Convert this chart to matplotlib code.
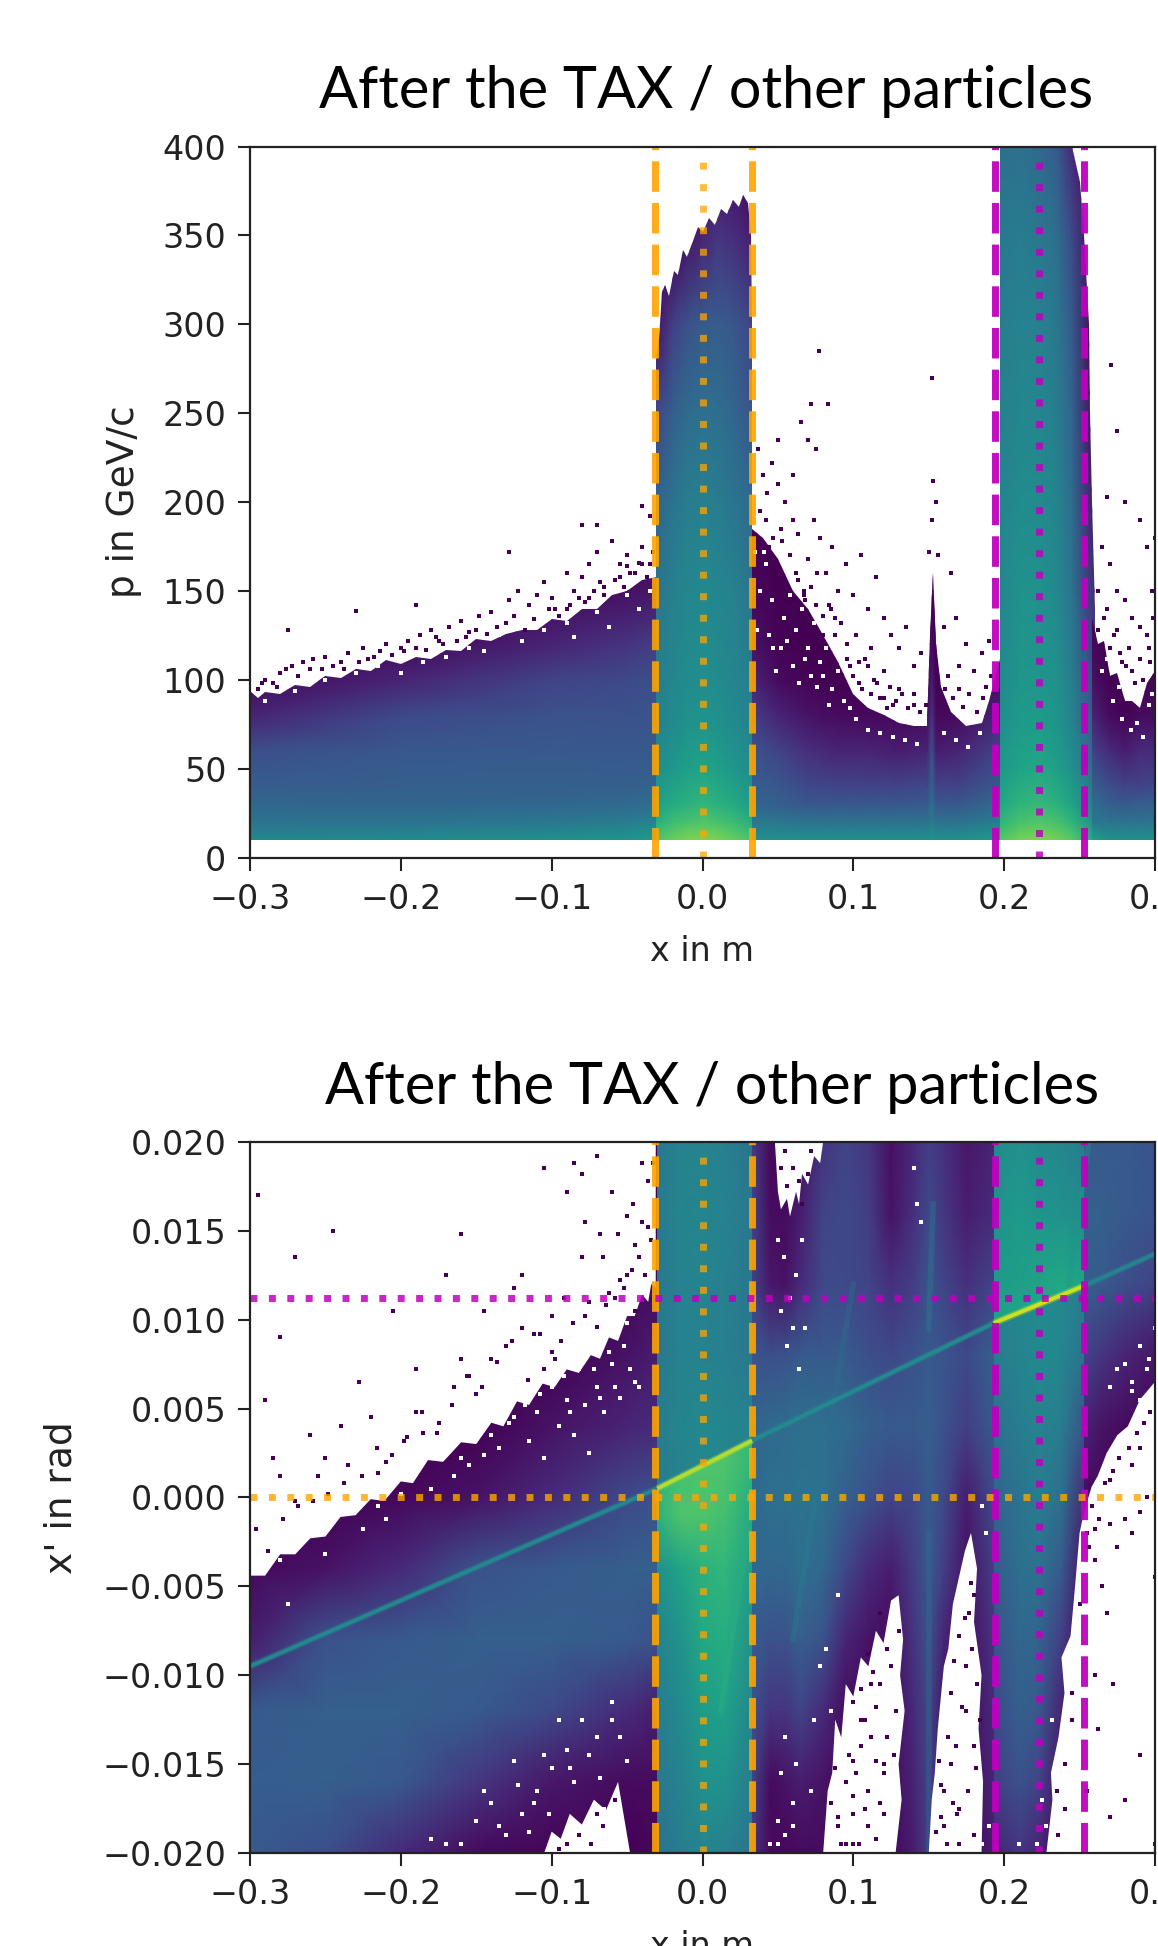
import numpy as np
import matplotlib
matplotlib.use("Agg")
import matplotlib.pyplot as plt
from matplotlib.patches import Polygon

title_text = "After the TAX / other particles"
x_ticks = [-0.3, -0.2, -0.1, 0.0, 0.1, 0.2, 0.3]
p_ticks = [0, 50, 100, 150, 200, 250, 300, 350, 400]
xp_ticks = [-0.020, -0.015, -0.010, -0.005, 0.000, 0.005, 0.010, 0.015, 0.020]

orange_x = [-0.0313, 0.0329]
orange_centre = 0.0
magenta_x = [0.194, 0.2527]
magenta_centre = 0.223
orange_y = 0.0
magenta_y = 0.0112

# ---- top panel: colour level (0-1 along viridis)
p_low = [10, 15, 20, 30, 40, 60, 80, 100, 120, 150, 190]
p_full = [10, 15, 20, 30, 50, 75, 100, 150, 200, 250, 300, 350, 400]

left_x = [-0.3, -0.2, -0.1, -0.05, -0.03]
left_vals = [[.47, .48, .50, .52, .55],
             [.42, .43, .45, .47, .50],
             [.38, .38, .40, .42, .45],
             [.33, .32, .33, .34, .36],
             [.29, .30, .30, .30, .32],
             [.24, .27, .28, .27, .28],
             [.10, .22, .25, .25, .26],
             [.02, .10, .20, .22, .24],
             [.00, .02, .10, .15, .18],
             [.00, .00, .02, .04, .06],
             [.00, .00, .00, .00, .00]]
left_env_x = [-.3, -.295, -.29, -.28, -.27, -.26, -.25, -.24, -.23, -.22, -.21, -.2, -.19, -.18, -.17, -.16, -.15, -.14, -.13, -.12, -.11, -.1, -.09, -.08, -.07, -.06, -.05, -.04, -.03]
left_env_p = [94, 90, 93, 92, 97, 96, 102, 101, 106, 105, 111, 109, 113, 112, 117, 116, 123, 122, 126, 128, 128, 134, 133, 140, 140, 148, 150, 156, 158]

mid_x = [.033, .05, .07, .09, .11, .13, .149, .152, .155, .17, .197]
mid_vals = [[.50, .50, .50, .50, .50, .50, .50, .52, .50, .50, .55],
            [.45, .45, .44, .44, .44, .44, .44, .47, .44, .44, .49],
            [.40, .40, .38, .38, .38, .38, .38, .42, .38, .38, .42],
            [.33, .30, .27, .27, .27, .27, .28, .36, .27, .27, .34],
            [.30, .27, .22, .20, .20, .20, .22, .32, .20, .20, .28],
            [.25, .20, .13, .10, .10, .08, .10, .25, .08, .10, .20],
            [.18, .10, .05, .03, .02, .02, .03, .15, .02, .03, .10],
            [.10, .03, .01, .00, .00, .00, .00, .08, .00, .00, .03],
            [.05, .01, .00, .00, .00, .00, .00, .03, .00, .00, .02],
            [.02, .00, .00, .00, .00, .00, .00, .01, .00, .00, .00],
            [.00, .00, .00, .00, .00, .00, .00, .00, .00, .00, .00]]
mid_env_x = [.033, .04, .05, .06, .07, .08, .09, .1, .11, .12, .13, .14, .149, .151, .153, .155, .158, .165, .175, .185, .19, .197]
mid_env_p = [185, 180, 168, 150, 140, 125, 110, 92, 84, 80, 76, 74, 74, 125, 160, 120, 96, 82, 74, 76, 88, 112]

slit1_x = [-0.031, -0.02, -0.01, 0, 0.01, 0.02, 0.033]
slit1_vals = [[.72, .77, .80, .81, .80, .77, .71],
              [.68, .73, .76, .77, .76, .73, .67],
              [.63, .69, .71, .73, .71, .69, .62],
              [.56, .61, .64, .66, .64, .61, .55],
              [.49, .53, .56, .58, .56, .53, .48],
              [.44, .48, .50, .52, .50, .48, .44],
              [.42, .46, .48, .49, .48, .46, .42],
              [.38, .43, .46, .47, .46, .44, .39],
              [.32, .38, .42, .43, .42, .39, .34],
              [.20, .30, .35, .37, .36, .33, .26],
              [.05, .18, .25, .28, .29, .27, .20],
              [.00, .00, .05, .10, .15, .13, .08],
              [.00, .00, .00, .00, .02, .02, .00]]
slit1_env_x = [-.031, -.029, -.027, -.025, -.022, -.019, -.016, -.013, -.01, -.006, -.003, 0, .004, .008, .012, .016, .02, .024, .027, .03, .032, .033]
slit1_env_p = [280, 292, 318, 322, 316, 330, 328, 342, 338, 347, 355, 352, 360, 356, 365, 362, 370, 366, 373, 368, 350, 300]

slit2_x = [.197, .21, .223, .235, .245, .26]
slit2_vals = [[.73, .79, .81, .79, .74, .60],
              [.69, .75, .77, .75, .70, .54],
              [.65, .71, .73, .71, .65, .49],
              [.59, .65, .67, .64, .58, .42],
              [.53, .58, .60, .56, .50, .34],
              [.49, .54, .55, .52, .45, .28],
              [.47, .52, .52, .50, .42, .22],
              [.46, .50, .50, .47, .38, .12],
              [.45, .48, .48, .45, .35, .06],
              [.43, .46, .46, .42, .32, .02],
              [.42, .44, .44, .40, .28, .00],
              [.40, .42, .40, .36, .22, .00],
              [.36, .37, .34, .28, .12, .00]]
slit2_env_x = [.197, .197, .245, .25, .253, .256, .257, .258, .26, .26]
slit2_env_p = [10, 400, 400, 380, 350, 300, 250, 200, 140, 10]

right_x = [.258, .27, .28, .29, .3]
right_p = [10, 20, 30, 40, 60, 80, 100, 120, 150]
right_vals = [[.58, .50, .50, .50, .50],
              [.40, .38, .38, .38, .38],
              [.36, .30, .28, .30, .30],
              [.30, .24, .20, .20, .22],
              [.20, .12, .08, .12, .12],
              [.10, .03, .01, .03, .03],
              [.05, .00, .00, .00, .02],
              [.02, .00, .00, .00, .00],
              [.00, .00, .00, .00, .00]]
right_env_x = [.258, .262, .266, .27, .275, .28, .285, .29, .295, .3]
right_env_p = [135, 120, 122, 102, 104, 88, 88, 84, 98, 105]

# single occupied bins above the solid part
top_speck_x = [-.295, -.29, -.285, -.28, -.272, -.265, -.258, -.25, -.24, -.235, -.225, -.218, -.21, -.2, -.195, -.187, -.18, -.175, -.168, -.16, -.155, -.148, -.14, -.13, -.128, -.122, -.115, -.11, -.105, -.098, -.09, -.085, -.08, -.075, -.07, -.068, -.06, -.055, -.05, -.045, -.04, -.035, -.275, -.23, -.19, -.128, -.08, -.07, -.04, -.035,
               -.292, -.282, -.276, -.268, -.26, -.252, -.245, -.238, -.228, -.222, -.214, -.206, -.198, -.19, -.183, -.177, -.172, -.163, -.157, -.15, -.143, -.136, -.125, -.118, -.112, -.102, -.095, -.088, -.082, -.078, -.072, -.065, -.058, -.052, -.048, -.042, -.037, -.033, -.1, -.09, -.075, -.065, -.055, -.05, -.04,
               .037, .04, .043, .046, .05, .05, .055, .06, .065, .072, .077, .083, .075, .07, .06, .042, .047, .053, .058, .063, .07, .074, .078, .082, .086, .09, .095, .1, .105, .11, .115, .12, .125, .13, .135, .14, .145, .08, .088, .096, .104, .112, .12, .13, .14, .05, .067, .075, .085, .038, .044, .052, .062, .068,
               .063, .067, .072, .076, .08, .084, .088, .092, .096, .1, .104, .108, .112, .116, .12, .124, .128, .132, .136, .14, .144, .148, .098, .102, .106, .11, .114, .118, .122, .126,
               .152, .153, .155, .152, .15, .156, .165, .168, .16, .175, .18, .185, .19, .17, .161, .163, .166, .17, .173, .177, .182, .186, .188, .191,
               .271, .268, .275, .29, .295, .3, .28, .265, .27, .275, .28, .285, .29, .295, .298, .262, .268, .275, .283, .29, .296, .278, .285,
               .262, .266, .27, .273, .277, .281, .287, .292, .297, .299]
top_speck_p = [95, 100, 98, 104, 108, 110, 112, 113, 110, 115, 118, 113, 120, 118, 122, 125, 128, 122, 130, 133, 127, 136, 138, 132, 145, 150, 142, 148, 155, 140, 160, 150, 158, 165, 172, 155, 178, 165, 170, 160, 175, 165, 128, 139, 142, 172, 187, 187, 198, 192,
               98, 96, 106, 102, 106, 106, 108, 106, 110, 112, 116, 114, 116, 118, 117, 124, 120, 122, 124, 128, 126, 130, 136, 128, 134, 140, 136, 142, 146, 144, 150, 148, 156, 152, 160, 166, 158, 172, 146, 140, 146, 152, 158, 164, 165,
               230, 215, 205, 222, 235, 210, 200, 215, 245, 255, 285, 255, 230, 235, 190, 190, 180, 178, 170, 182, 168, 190, 180, 160, 175, 150, 165, 148, 170, 140, 158, 135, 125, 118, 130, 108, 115, 125, 135, 120, 110, 118, 105, 95, 92, 160, 150, 142, 140, 195, 175, 185, 160, 145,
               156, 148, 152, 160, 136, 142, 125, 132, 112, 102, 98, 112, 92, 98, 90, 96, 88, 92, 84, 86, 82, 86, 108, 125, 95, 108, 100, 90, 84, 86,
               270, 212, 200, 190, 172, 170, 160, 135, 130, 120, 105, 115, 122, 108, 95, 102, 90, 95, 85, 92, 82, 90, 96, 102,
               277, 203, 240, 190, 175, 180, 200, 175, 165, 150, 145, 135, 130, 125, 150, 150, 140, 128, 118, 112, 118, 110, 105,
               128, 135, 118, 125, 115, 108, 98, 100, 110, 135]
# white gaps in the purple edge of the top panel
top_gap_x = [-.29, -.27, -.25, -.23, -.215, -.2, -.185, -.17, -.155, -.145, -.135, -.12, -.105, -.09, -.085, -.07, -.062, -.05, -.042, -.035,
             .038, .042, .046, .05, .054, .058, .062, .066, .07, .074, .078, .082, .086, .09, .094, .098, .044, .052, .06, .068, .076, .084, .102, .11, .118, .126, .134, .142, .16, .168, .176, .184, .036, .041, .047, .056, .064, .072, .08, .035, .049,
             .265, .272, .278, .284, .292, .296, .268, .276, .288, .298]
top_gap_p = [88, 94, 100, 104, 108, 104, 110, 113, 118, 116, 125, 122, 128, 132, 124, 138, 130, 148, 140, 150,
             150, 165, 145, 160, 135, 148, 128, 140, 118, 132, 110, 118, 95, 105, 88, 84, 125, 118, 108, 112, 96, 86, 78, 72, 70, 68, 66, 64, 70, 66, 62, 70, 128, 172, 118, 122, 98, 102, 102, 172, 105,
             105, 88, 78, 72, 68, 86, 112, 96, 76, 92]

# ---- bottom panel
y_nodes = [-.02, -.016, -.012, -.008, -.004, 0, .004, .008, .012, .016, .02]

b_left_x = [-.3, -.25, -.2, -.15, -.1, -.05, -.03]
b_left_vals = [[.28, .24, .12, .03, .01, .00, .02],
               [.29, .30, .27, .16, .06, .03, .03],
               [.28, .30, .30, .28, .22, .12, .08],
               [.08, .25, .28, .30, .30, .28, .25],
               [.02, .05, .12, .25, .28, .30, .30],
               [.00, .00, .02, .05, .12, .22, .25],
               [.00, .00, .00, .00, .05, .10, .12],
               [.00, .00, .00, .00, .00, .05, .08],
               [.00, .00, .00, .00, .00, .02, .03],
               [.00, .00, .00, .00, .00, .00, .00],
               [.00, .00, .00, .00, .00, .00, .00]]

b_slit1_x = [-.03, -.015, 0, .015, .033]
# slit 1 is split along the ridge: bright below it, flat above it
b_slit1_low_y = [-.02, -.016, -.012, -.008, -.004, -.001, .002, .0035]
b_slit1_low_vals = [[.38, .42, .45, .43, .38],
                    [.40, .44, .50, .51, .42],
                    [.42, .47, .55, .57, .45],
                    [.45, .50, .60, .62, .50],
                    [.50, .58, .64, .66, .56],
                    [.64, .72, .72, .70, .60],
                    [.66, .70, .72, .72, .66],
                    [.66, .70, .72, .72, .66]]
b_slit1_up_y = [.0005, .004, .008, .012, .016, .02]
b_slit1_up_vals = [[.42, .44, .46, .45, .42],
                   [.42, .45, .47, .46, .44],
                   [.40, .44, .44, .43, .40],
                   [.40, .44, .45, .43, .40],
                   [.41, .45, .46, .44, .40],
                   [.40, .44, .45, .43, .38]]

b_mid_x = [.033, .045, .055, .065, .08, .095, .11, .125, .14, .15, .16, .175, .193]
b_mid_vals = [[.15, .02, .02, .03, .03, .02, .02, .02, .08, .18, .02, .02, .08],
              [.20, .03, .05, .08, .05, .02, .02, .03, .10, .20, .03, .03, .10],
              [.25, .15, .15, .20, .12, .03, .03, .03, .12, .22, .05, .03, .12],
              [.28, .25, .25, .30, .25, .10, .05, .03, .15, .25, .10, .03, .15],
              [.33, .33, .33, .36, .33, .22, .12, .08, .18, .28, .18, .05, .18],
              [.34, .36, .36, .38, .37, .30, .25, .20, .22, .28, .22, .08, .22],
              [.32, .34, .35, .36, .36, .34, .30, .28, .28, .30, .25, .18, .28],
              [.26, .24, .25, .28, .28, .28, .24, .22, .25, .28, .26, .22, .30],
              [.20, .06, .05, .12, .22, .22, .20, .14, .18, .26, .20, .14, .20],
              [.20, .03, .03, .08, .20, .22, .18, .05, .14, .22, .16, .08, .12],
              [.18, .02, .02, .05, .15, .20, .16, .04, .12, .18, .14, .06, .10]]

# slit 2 is split along the ridge as well
b_slit2_x = [.193, .21, .223, .238, .253]
b_slit2_low_y = [-.02, -.016, -.012, -.008, -.004, 0, .004, .008, .012]
b_slit2_low_vals = [[.10, .15, .10, .03, .00],
                    [.18, .25, .20, .05, .00],
                    [.22, .30, .28, .10, .02],
                    [.25, .33, .32, .18, .03],
                    [.28, .36, .38, .28, .05],
                    [.32, .38, .42, .36, .12],
                    [.36, .42, .45, .42, .25],
                    [.42, .45, .47, .46, .38],
                    [.44, .46, .48, .47, .42]]
b_slit2_up_y = [.0095, .012, .016, .02]
b_slit2_up_vals = [[.58, .60, .60, .60, .58],
                   [.54, .56, .58, .60, .58],
                   [.50, .54, .52, .50, .48],
                   [.48, .50, .48, .46, .42]]

b_right_x = [.253, .265, .28, .3]
b_right_vals = [[.00, .00, .00, .00],
                [.00, .00, .00, .00],
                [.00, .00, .00, .00],
                [.00, .00, .00, .00],
                [.00, .00, .00, .00],
                [.03, .02, .00, .00],
                [.10, .05, .03, .02],
                [.20, .15, .10, .06],
                [.30, .28, .24, .20],
                [.30, .30, .28, .26],
                [.28, .28, .28, .26]]

# the sharp ridge: x, x', colour level
ridge_x = [-.3, -.03, .033, .193, .253, .3]
ridge_y = [-.0095, .0005, .0032, .0098, .0119, .0137]
ridge_level = [.46, .88, .47, .92, .44]

# fainter streaks
streak_x0 = [.15, .085, .012, .243, .06, .15]
streak_y0 = [.0095, .0045, -.012, .012, -.008, -.02]
streak_x1 = [.153, .1, .032, .256, .075, .15]
streak_y1 = [.0165, .012, -.001, .02, .0, -.002]
streak_level = [.42, .36, .64, .52, .42, .34]

# empty areas of the bottom panel
hole_ul_x = [-.3, -.031, -.031, -.034, -.036, -.04, -.045, -.05, -.056, -.062, -.068, -.074, -.082, -.09, -.098, -.106, -.115, -.123, -.132, -.14, -.15, -.16, -.172, -.182, -.192, -.2, -.211, -.22, -.23, -.24, -.25, -.26, -.27, -.28, -.29, -.3]
hole_ul_y = [.02, .02, .0118, .012, .011, .0114, .0102, .0102, .0088, .009, .0078, .008, .007, .0072, .0062, .0064, .0052, .0054, .004, .0042, .003, .0031, .002, .0021, .0008, .0009, -.0002, -.0001, -.001, -.0011, -.0022, -.0023, -.0032, -.0032, -.0044, -.0044]
hole_top_x = [.048, .05, .052, .056, .058, .062, .064, .066, .07, .074, .078, .08]
hole_top_y = [.02, .0172, .0162, .0168, .0158, .0172, .0165, .0182, .0176, .0192, .0188, .02]
hole_low_x = [-.105, -.1, -.094, -.088, -.08, -.072, -.064, -.056, -.052, -.048]
hole_low_y = [-.02, -.0188, -.0192, -.0178, -.0184, -.017, -.0176, -.016, -.018, -.02]
hole_a_x = [.08, .083, .086, .088, .092, .095, .1, .105, .11, .115, .12, .125, .13, .133, .131, .134, .13, .132, .128]
hole_a_y = [-.02, -.0165, -.0155, -.0125, -.0135, -.0105, -.0112, -.009, -.0095, -.0075, -.0082, -.0058, -.0055, -.008, -.01, -.012, -.015, -.017, -.02]
hole_b_x = [.15, .152, .154, .156, .16, .163, .166, .17, .174, .178, .182, .18, .185, .183, .186, .185]
hole_b_y = [-.02, -.017, -.0155, -.013, -.0095, -.0085, -.006, -.0045, -.003, -.002, -.004, -.007, -.01, -.013, -.016, -.02]
hole_r_x = [.228, .232, .231, .236, .24, .238, .244, .247, .25, .253, .258, .262, .268, .275, .282, .29, .3, .3]
hole_r_y = [-.02, -.017, -.0155, -.0135, -.011, -.009, -.0078, -.005, -.002, -.0008, .0006, .0012, .0025, .0035, .004, .0055, .0065, -.02]

# purple bins lying in the empty areas
low_speck_x = [-.295, -.29, -.285, -.28, -.27, -.26, -.255, -.245, -.24, -.235, -.228, -.22, -.215, -.21, -.205, -.198, -.19, -.185, -.175, -.17, -.165, -.16, -.15, -.145, -.14, -.13, -.125, -.12, -.112, -.105, -.1, -.092, -.085, -.08, -.075, -.068, -.062, -.055, -.05, -.045, -.04, -.036, -.033, -.28, -.27, -.25, -.19, -.16, -.155, -.12, -.105, -.098, -.08, -.06, -.05, -.045,
               -.296, -.288, -.278, -.268, -.258, -.248, -.238, -.226, -.216, -.206, -.196, -.186, -.176, -.166, -.156, -.146, -.136, -.126, -.116, -.108, -.1, -.094, -.086, -.078, -.07, -.064, -.058, -.052, -.047, -.042, -.038, -.034, -.09, -.078, -.066, -.056, -.046, -.04, -.036, -.07,
               .052, .056, .06, .064, .072, .07, .055, .066,
               -.09, -.082, -.074, -.066, -.058, -.07, -.095,
               .09, .095, .1, .105, .11, .115, .12, .125, .128, .1, .105, .11, .115, .12, .1, .105, .112, .118, .1, .108, .115, .122, .095, .104, .112, .12, .09, .1, .11, .118,
               .085, .088, .092, .097, .102, .108, .113, .118, .122, .127, .13,
               .16, .165, .17, .175, .18, .165, .17, .175, .18, .16, .168, .176, .18, .162, .17, .178, .158, .166, .174, .182,
               .155, .158, .163, .167, .172, .177, .181, .184, .157, .169, .179,
               .236, .24, .245, .25, .245, .24, .235, .255, .26, .265, .27, .275, .28, .26, .268, .285, .29, .295, .262, .272, .28, .27, .29, .3, .255, .27, .285, .29, .3,
               .258, .263, .267, .272, .276, .283, .288, .293, .297, .256, .26]
low_speck_y = [.017, .0055, .0022, .009, .0135, .0035, .0012, .015, .004, .0018, .0065, .0045, .0014, .002, .0105, .0032, .0072, .0036, .0042, .0125, .0062, .0078, .0058, .0105, .0078, .0085, .0118, .0095, .0092, .0185, .0102, .0112, .0188, .0182, .011, .0148, .0115, .0122, .0158, .0142, .0155, .0178, .0188, .0012, -.0002, .0022, .0048, .0148, .0068, .0125, .0072, .0078, .0135, .0172, .0125, .0105,
               -.0018, -.003, -.0012, -.0005, -.0002, .0002, .0008, .0012, .0028, .0024, .0034, .0048, .0036, .0052, .0068, .0062, .0076, .0088, .0066, .0092, .0082, .0088, .0098, .0102, .0096, .0108, .0112, .0118, .0128, .0135, .0125, .0145, .0172, .0155, .0135, .0148, .0165, .0188, .0152, .0192,
               .0185, .0175, .0185, .0178, .0195, .0182, .0195, .0165,
               -.0195, -.019, -.0195, -.0185, -.017, -.0178, -.0198,
               -.018, -.016, -.0178, -.014, -.0165, -.0118, -.015, -.0095, -.012, -.0195, -.0125, -.0185, -.0148, -.0178, -.0148, -.0108, -.0135, -.0105, -.0168, -.0175, -.0192, -.0135, -.0195, -.0195, -.0105, -.0155, -.0185, -.0115, -.0088, -.0065,
               -.0172, -.0152, -.0195, -.0145, -.0155, -.0125, -.0098, -.0172, -.0085, -.0145, -.0075,
               -.0185, -.015, -.0175, -.012, -.019, -.011, -.0078, -.0095, -.0055, -.0165, -.014, -.0165, -.014, -.0195, -.0195, -.0048, -.018, -.0172, -.0068, -.0105,
               -.0188, -.0162, -.0135, -.0092, -.0118, -.0065, -.0152, -.0125, -.0148, -.0178, -.0085,
               -.019, -.015, -.011, -.006, -.0125, -.0175, -.0165, -.002, -.0035, -.005, -.0015, -.0028, -.0012, -.01, -.0065, -.002, -.0008, .0, -.013, -.0105, -.017, -.018, -.0145, -.0195, -.0165, .001, .0018, .0028, -.0045,
               -.0005, -.0012, .0008, .0015, .0022, .0028, .0036, .0042, .0048, -.0028, -.0018]
# white gaps inside the purple areas
gap_x = [-.28, -.275, -.26, -.25, -.225, -.215, -.19, -.18, -.17, -.16, -.15, -.14, -.13, -.12, -.11, -.1, -.09, -.08, -.07, -.06, -.05, -.045, -.125, -.115, -.105, -.095, -.085, -.075, -.065, -.055,
         -.135, -.128, -.118, -.108, -.1, -.092, -.082, -.072, -.062, -.052, -.048, -.088, -.078, -.068, -.058, -.042, -.155, -.145, -.165, -.175, -.2, -.21,
         -.16, -.15, -.14, -.13, -.12, -.11, -.1, -.09, -.08, -.07, -.06, -.05, -.145, -.125, -.115, -.095, -.085, -.065,
         -.135, -.122, -.105, -.088, -.075, -.06, -.055, -.112, -.102, -.068, -.17, -.18,
         .05, .054, .058, .062, .066, .052, .06, .068, .056, .064, .05, .06, .072, .052, .06, .045, .05, .055, .062, .055,
         .14, .142, .145, .185, .188, .178, .09, .082, .078, .074, .085,
         .19, .185, .21, .222, .225, .235, .232, .24, .228, .245,
         .28, .285, .29, .295, .3, .29, .285, .296, .275, .27]
gap_y = [-.0035, -.006, -.001, -.0032, -.0018, -.0005, .0015, .0005, .0032, .0022, .0048, .0035, .0058, .0068, .0048, .0078, .0055, .0088, .0062, .0075, .0098, .0065, .0045, .0032, .0022, .004, .0035, .0025, .0048, .0056,
         .0028, .0042, .0052, .0058, .0062, .0068, .0072, .0072, .0082, .0085, .0072, .0048, .0052, .0056, .0062, .0062, .0018, .0024, .0012, .0022, .0002, -.0012,
         -.0195, -.0182, -.0172, -.019, -.0178, -.0165, -.0152, -.0142, -.0125, -.0135, -.0115, -.0148, -.0165, -.0148, -.0188, -.0125, -.016, -.0175,
         -.0185, -.0162, -.0145, -.0152, -.0145, -.0125, -.0135, -.0172, -.0178, -.0158, -.0195, -.0192,
         .0145, .0135, .0112, .0125, .0145, .0105, .0095, .0095, .0085, .0072, -.0195, -.0172, -.0165, -.0155, -.0185, -.0195, -.0182, -.019, -.015, -.0135,
         .0185, .0165, .0155, -.0005, -.002, -.0045, -.0055, -.0085, -.0095, -.0125, -.012,
         -.0185, -.0195, -.0195, -.0195, -.017, -.0155, -.0125, -.0135, -.0185, -.0095,
         .0075, .0065, .0085, .0072, .0095, .0055, .006, .0078, .0072, .0062]


def mesh(ax, xs, ys, vals, env=None):
    m = ax.pcolormesh(xs, ys, np.array(vals), shading="gouraud", cmap="viridis", vmin=0, vmax=1, zorder=1)
    if env is not None:
        clip = Polygon(env, closed=True, transform=ax.transData, fc="none", ec="none")
        ax.add_patch(clip)
        m.set_clip_path(clip)


def roof(env_x, env_p):
    return [(env_x[0], 10)] + list(zip(env_x, env_p)) + [(env_x[-1], 10)]


def guide_lines(ax):
    for x in orange_x:
        ax.axvline(x, color="orange", lw=5, ls=(0, (4.4, 1.6)), alpha=.9, zorder=5)
    ax.axvline(orange_centre, color="orange", lw=5, ls=(0, (1, 2.1)), alpha=.75, zorder=5)
    for x in magenta_x:
        ax.axvline(x, color="m", lw=5, ls=(0, (4.4, 1.6)), alpha=.95, zorder=5)
    ax.axvline(magenta_centre, color="m", lw=5, ls=(0, (1, 2.1)), alpha=.85, zorder=5)


def style(ax, yticks):
    ax.set_xlim(-0.3, 0.3)
    ax.set_xticks(x_ticks)
    ax.set_yticks(yticks)
    ax.tick_params(labelsize=24, length=9, width=1.5, colors="#222222", pad=9)
    ax.tick_params(axis="y", pad=8)
    for s in ax.spines.values():
        s.set_linewidth(1.6)
        s.set_color("#222222")
        s.set_zorder(10)


W, H = 1158, 1946
fig = plt.figure(figsize=(W / 100, H / 100), dpi=100)
ax1 = fig.add_axes([250 / W, 1 - 857.7 / H, 905 / W, 711.2 / H])
ax2 = fig.add_axes([250 / W, 1 - 1853 / H, 905 / W, 711.2 / H])

# top panel
mesh(ax1, left_x, p_low, left_vals, roof(left_env_x, left_env_p))
mesh(ax1, mid_x, p_low, mid_vals, roof(mid_env_x, mid_env_p))
mesh(ax1, slit1_x, p_full, slit1_vals, roof(slit1_env_x, slit1_env_p))
mesh(ax1, slit2_x, p_full, slit2_vals, list(zip(slit2_env_x, slit2_env_p)))
mesh(ax1, right_x, right_p, right_vals, roof(right_env_x, right_env_p))
ax1.scatter(top_gap_x, top_gap_p, s=11, marker="s", color="white", linewidths=0, zorder=1.5)
ax1.scatter(top_speck_x, top_speck_p, s=10, marker="s", color="#440154", linewidths=0, zorder=2)
guide_lines(ax1)
ax1.set_ylim(0, 400)
style(ax1, p_ticks)

# bottom panel
mesh(ax2, b_left_x, y_nodes, b_left_vals)
mesh(ax2, b_mid_x, y_nodes, b_mid_vals)
mesh(ax2, b_right_x, y_nodes, b_right_vals)
below_1 = [(ridge_x[1], -.02), (ridge_x[1], ridge_y[1]), (ridge_x[2], ridge_y[2]), (ridge_x[2], -.02)]
above_1 = [(ridge_x[1], .02), (ridge_x[1], ridge_y[1]), (ridge_x[2], ridge_y[2]), (ridge_x[2], .02)]
below_2 = [(ridge_x[3], -.02), (ridge_x[3], ridge_y[3]), (ridge_x[4], ridge_y[4]), (ridge_x[4], -.02)]
above_2 = [(ridge_x[3], .02), (ridge_x[3], ridge_y[3]), (ridge_x[4], ridge_y[4]), (ridge_x[4], .02)]
mesh(ax2, b_slit1_x, b_slit1_low_y, b_slit1_low_vals, below_1)
mesh(ax2, b_slit1_x, b_slit1_up_y, b_slit1_up_vals, above_1)
mesh(ax2, b_slit2_x, b_slit2_low_y, b_slit2_low_vals, below_2)
mesh(ax2, b_slit2_x, b_slit2_up_y, b_slit2_up_vals, above_2)
for hx, hy in [(hole_ul_x, hole_ul_y), (hole_top_x, hole_top_y), (hole_low_x, hole_low_y),
               (hole_a_x, hole_a_y), (hole_b_x, hole_b_y), (hole_r_x, hole_r_y)]:
    ax2.add_patch(Polygon(list(zip(hx, hy)), closed=True, fc="white", ec="none", zorder=2))
ax2.scatter(gap_x, gap_y, s=11, marker="s", color="white", linewidths=0, zorder=2.5)
ax2.scatter(low_speck_x, low_speck_y, s=10, marker="s", color="#440154", linewidths=0, zorder=3)
for x0, y0, x1, y1, lev in zip(streak_x0, streak_y0, streak_x1, streak_y1, streak_level):
    ax2.plot([x0, x1], [y0, y1], color=plt.cm.viridis(lev), lw=4, alpha=.4, zorder=1.2)
for i, lev in enumerate(ridge_level):
    ax2.plot(ridge_x[i:i + 2], ridge_y[i:i + 2], color=plt.cm.viridis(lev), lw=5, alpha=.35, solid_capstyle="butt", zorder=4)
    ax2.plot(ridge_x[i:i + 2], ridge_y[i:i + 2], color=plt.cm.viridis(lev), lw=2.8, solid_capstyle="butt", zorder=4)
guide_lines(ax2)
ax2.axhline(orange_y, color="orange", lw=5, ls=(0, (1, 1.65)), alpha=.8, zorder=5)
ax2.axhline(magenta_y, color="m", lw=5, ls=(0, (1, 1.65)), alpha=.85, zorder=5)
ax2.set_ylim(-0.02, 0.02)
style(ax2, xp_ticks)
ax2.set_yticklabels([f"{v:.3f}".replace("-", "\u2212") for v in xp_ticks])

for ax, ylab, ylab_x in [(ax1, "p in GeV/c", -0.139), (ax2, "x' in rad", -0.208)]:
    ax.set_xlabel("x in m", fontsize=24, color="#222222", va="top")
    ax.set_ylabel(ylab, fontsize=27, color="#222222", va="center")
    ax.xaxis.set_label_coords(0.5, -0.108)
    ax.yaxis.set_label_coords(ylab_x, 0.5)

fig.text(706 / W, 1 - 91 / H, title_text, fontsize=41.5, family="Lato", color="black", ha="center", va="center")
fig.text(712 / W, 1 - 1087 / H, title_text, fontsize=41.5, family="Lato", color="black", ha="center", va="center")

fig.savefig("out.png", dpi=100)
